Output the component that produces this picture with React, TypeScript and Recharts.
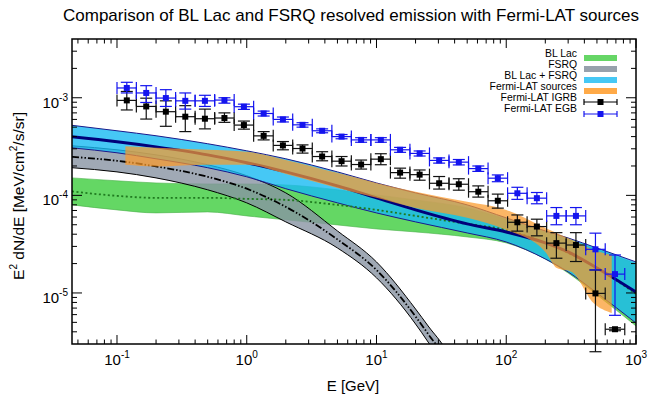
import React from 'react'
import { ComposedChart, Area, Scatter, ErrorBar, XAxis, YAxis, ReferenceArea } from 'recharts'

// energies (GeV) of the model band grid
const bandE = [0.045, 0.1, 0.2, 0.5, 1, 2, 5, 10, 20, 50, 100, 200, 300, 500, 1000]

// BL Lac (green)
const blLacLo = [7.99e-5, 7.1e-5, 6.61e-5, 6.77e-5, 6.16e-5, 5.61e-5, 4.98e-5, 4.53e-5, 4.22e-5, 3.75e-5, 3.26e-5, 2.23e-5, 1.6e-5, 9.54e-6, 4.59e-6]
const blLacHi = [1.51e-4, 1.41e-4, 1.34e-4, 1.31e-4, 1.31e-4, 1.28e-4, 1.14e-4, 1.01e-4, 8.99e-5, 7.44e-5, 5.7e-5, 4.2e-5, 3.55e-5, 2.8e-5, 2.0e-5]
const blLacMid = [1.1e-4, 9.88e-5, 9.43e-5, 9.43e-5, 9.21e-5, 8.99e-5, 7.99e-5, 7.1e-5, 6.16e-5, 5.1e-5, 4.43e-5, 3.26e-5, 2.57e-5, 1.8e-5, 9.76e-6]

// BL Lac + FSRQ (cyan)
const sumLo = [3.07e-4, 2.73e-4, 2.37e-4, 1.92e-4, 1.55e-4, 1.17e-4, 8.38e-5, 6.61e-5, 5.35e-5, 4.12e-5, 3.33e-5, 2.23e-5, 1.64e-5, 1.0e-5, 4.92e-6]
const sumHi = [5.22e-4, 4.59e-4, 4.08e-4, 3.38e-4, 2.86e-4, 2.37e-4, 1.74e-4, 1.34e-4, 1.06e-4, 7.99e-5, 5.88e-5, 4.32e-5, 3.66e-5, 2.89e-5, 2.08e-5]
const sumMid = [3.98e-4, 3.54e-4, 3.14e-4, 2.6e-4, 2.16e-4, 1.74e-4, 1.25e-4, 9.43e-5, 7.1e-5, 5.1e-5, 4.22e-5, 3.26e-5, 2.63e-5, 1.8e-5, 1.02e-5]

// FSRQ (gray)
const fsrqE = [0.045, 0.1, 0.2, 0.5, 1, 2, 5, 10, 20, 25, 35, 50]
const fsrqLo = [1.92e-4, 1.74e-4, 1.51e-4, 1.14e-4, 8.38e-5, 5.35e-5, 2.89e-5, 1.43e-5, 4.81e-6, 3.14e-6, 1.55e-6, 3.9e-7]
const fsrqHi = [3.22e-4, 2.93e-4, 2.6e-4, 2.06e-4, 1.59e-4, 1.06e-4, 4.32e-5, 2.08e-5, 6.85e-6, 4.59e-6, 2.48e-6, 8.0e-7]
const fsrqMid = [2.48e-4, 2.26e-4, 1.98e-4, 1.55e-4, 1.17e-4, 7.62e-5, 3.54e-5, 1.72e-5, 5.74e-6, 3.8e-6, 1.96e-6, 5.6e-7]

// Fermi-LAT resolved sources (orange)
const srcE = [0.116, 0.2, 0.5, 1, 2, 5, 10, 20, 50, 100, 200, 245, 320, 470, 650]
const srcLo = [2.06e-4, 1.98e-4, 2.06e-4, 2.06e-4, 1.66e-4, 1.19e-4, 9.43e-5, 7.44e-5, 5.88e-5, 4.43e-5, 2.63e-5, 1.8e-5, 1.64e-5, 7.89e-6, 6.24e-6]
const srcHi = [3.18e-4, 3.07e-4, 2.93e-4, 2.8e-4, 2.31e-4, 1.7e-4, 1.34e-4, 1.09e-4, 8.58e-5, 7.1e-5, 4.64e-5, 4.12e-5, 3.5e-5, 2.76e-5, 2.45e-5]

// Fermi-LAT energy bins (GeV)
const binLo = [0.1, 0.141, 0.2, 0.283, 0.4, 0.566, 0.8, 1.13, 1.6, 2.26, 3.2, 4.53, 6.4, 9.05, 12.8, 18.1, 25.6, 36.2, 51.2, 72.4, 102.4, 144.8, 204.8, 289.6, 409.6, 579.2]
const binHi = [0.141, 0.2, 0.283, 0.4, 0.566, 0.8, 1.13, 1.6, 2.26, 3.2, 4.53, 6.4, 9.05, 12.8, 18.1, 25.6, 36.2, 51.2, 72.4, 102.4, 144.8, 204.8, 289.6, 409.6, 579.2, 819.2]
const binC = [0.119, 0.168, 0.238, 0.336, 0.476, 0.673, 0.951, 1.35, 1.9, 2.69, 3.81, 5.38, 7.61, 10.8, 15.2, 21.5, 30.4, 43.1, 60.9, 86.1, 121.8, 172.2, 243.5, 344.4, 487.0, 688.8]

// IGRB
const igrb = [9.4e-4, 8.15e-4, 7.2e-4, 6.4e-4, 6.1e-4, 6.2e-4, 5.25e-4, 4.07e-4, 3.25e-4, 3.02e-4, 2.5e-4, 2.24e-4, 2.07e-4, 2.35e-4, 1.71e-4, 1.63e-4, 1.33e-4, 1.3e-4, 1.09e-4, 8.8e-5, 5.3e-5, 4.79e-5, 3.24e-5, 3.1e-5, 9.9e-6, 4.25e-6]
const igrbHi = [1.16e-3, 9.9e-4, 9.3e-4, 8.3e-4, 7.65e-4, 7.0e-4, 5.77e-4, 4.5e-4, 3.56e-4, 3.29e-4, 2.8e-4, 2.5e-4, 2.3e-4, 2.67e-4, 1.9e-4, 1.82e-4, 1.56e-4, 1.48e-4, 1.25e-4, 1.03e-4, 6.3e-5, 5.7e-5, 4.15e-5, 4.15e-5, 1.72e-5, 4.4e-6]
const igrbLo = [7.5e-4, 6.05e-4, 5.1e-4, 4.5e-4, 4.8e-4, 5.6e-4, 4.77e-4, 3.7e-4, 2.93e-4, 2.71e-4, 2.26e-4, 2.0e-4, 1.86e-4, 2.06e-4, 1.5e-4, 1.43e-4, 1.16e-4, 1.13e-4, 9.6e-5, 7.4e-5, 4.3e-5, 3.85e-5, 2.27e-5, 2.1e-5, 2.5e-6, 4.1e-6]

// EGB
const egb = [1.26e-3, 1.12e-3, 9.93e-4, 9.3e-4, 9.3e-4, 9.47e-4, 8.1e-4, 6.9e-4, 6.0e-4, 5.28e-4, 4.59e-4, 4.0e-4, 3.7e-4, 3.7e-4, 2.93e-4, 2.69e-4, 2.28e-4, 2.19e-4, 1.88e-4, 1.5e-4, 1.05e-4, 9.36e-5, 6.16e-5, 6.16e-5, 2.8e-5, 1.56e-5]
const egbHi = [1.44e-3, 1.33e-3, 1.21e-3, 1.12e-3, 1.06e-3, 1.0e-3, 8.6e-4, 7.3e-4, 6.35e-4, 5.55e-4, 4.8e-4, 4.2e-4, 3.9e-4, 3.9e-4, 3.1e-4, 2.85e-4, 2.42e-4, 2.33e-4, 2.0e-4, 1.62e-4, 1.21e-4, 1.07e-4, 7.5e-5, 7.5e-5, 4.1e-5, 2.45e-5]
const egbLo = [1.12e-3, 8.95e-4, 8.15e-4, 7.65e-4, 8.15e-4, 8.8e-4, 7.6e-4, 6.5e-4, 5.65e-4, 5.0e-4, 4.38e-4, 3.8e-4, 3.5e-4, 3.5e-4, 2.76e-4, 2.53e-4, 2.14e-4, 2.05e-4, 1.76e-4, 1.38e-4, 9.1e-5, 8.2e-5, 5.0e-5, 5.0e-5, 1.72e-5, 5.9e-6]

const X_DOMAIN = [0.045, 1000]
const Y_DOMAIN = [3e-6, 4e-3]
const xTicks = [0.05, 0.06, 0.07, 0.08, 0.09, 0.1, 0.2, 0.3, 0.4, 0.5, 0.6, 0.7, 0.8, 0.9, 1, 2, 3, 4, 5, 6, 7, 8, 9, 10, 20, 30, 40, 50, 60, 70, 80, 90, 100, 200, 300, 400, 500, 600, 700, 800, 900, 1000]
const yTicks = [4e-6, 5e-6, 6e-6, 7e-6, 8e-6, 9e-6, 1e-5, 2e-5, 3e-5, 4e-5, 5e-5, 6e-5, 7e-5, 8e-5, 9e-5, 1e-4, 2e-4, 3e-4, 4e-4, 5e-4, 6e-4, 7e-4, 8e-4, 9e-4, 1e-3, 2e-3, 3e-3]

const C = {
  green: '#3dcd3d', greenLeg: '#66d666',
  gray: '#8894a2', grayLeg: '#97a1ac',
  cyan: '#18baf3', cyanLeg: '#46c8f5',
  orange: '#fb9a2a', orangeLeg: '#ffaa48',
  navy: '#00007a', blue: '#1414ee',
}
const FONT = '"Liberation Sans", Arial, Helvetica, sans-serif'
const PLOT = { left: 72, top: 39, right: 636, bottom: 344 }

const band = (es: number[], lo: number[], hi: number[]) => es.map((e, i) => ({ e, r: [lo[i], hi[i]] }))
const line = (es: number[], m: number[]) => es.map((e, i) => ({ e, m: m[i] }))
const points = (f: number[], lo: number[], hi: number[]) =>
  binC.map((e, i) => ({ e, f: f[i], ex: [e - binLo[i], binHi[i] - e], ey: [f[i] - lo[i], hi[i] - f[i]] }))

const isMajor = (v: number) => Math.abs(Math.log10(v) - Math.round(Math.log10(v))) < 1e-6

function XTick(props: any) {
  const { x, payload } = props
  const v = payload.value
  const major = isMajor(v)
  const len = major ? 9 : 4.5
  return (
    <g>
      <line x1={x} x2={x} y1={PLOT.bottom} y2={PLOT.bottom - len} stroke="#000" strokeWidth={1} />
      <line x1={x} x2={x} y1={PLOT.top} y2={PLOT.top + len} stroke="#000" strokeWidth={1} />
      {major && (
        <text x={x} y={PLOT.bottom + 21} textAnchor="middle" fontFamily={FONT} fontSize={15} fill="#000">
          10<tspan dy={-7} fontSize={10}>{Math.round(Math.log10(v))}</tspan>
        </text>
      )}
    </g>
  )
}

function YTick(props: any) {
  const { y, payload } = props
  const v = payload.value
  const major = isMajor(v)
  const len = major ? 10 : 5
  return (
    <g>
      <line x1={PLOT.left} x2={PLOT.left + len} y1={y} y2={y} stroke="#000" strokeWidth={1} />
      <line x1={PLOT.right} x2={PLOT.right - len} y1={y} y2={y} stroke="#000" strokeWidth={1} />
      {major && (
        <text x={PLOT.left - 4} y={y + 10} textAnchor="end" fontFamily={FONT} fontSize={15} fill="#000">
          10<tspan dy={-7} fontSize={10}>{Math.round(Math.log10(v))}</tspan>
        </text>
      )}
    </g>
  )
}

const square = (color: string) => (p: any) => (
  <rect x={p.cx - 3} y={p.cy - 3} width={6} height={6} fill={color} />
)

const legend = [
  { label: 'BL Lac', color: C.greenLeg },
  { label: 'FSRQ', color: C.grayLeg },
  { label: 'BL Lac + FSRQ', color: C.cyanLeg },
  { label: 'Fermi-LAT sources', color: C.orangeLeg },
  { label: 'Fermi-LAT IGRB', marker: '#000' },
  { label: 'Fermi-LAT EGB', marker: C.blue },
]

export default function App() {
  return (
    <div style={{ position: 'absolute', left: 0, top: 0, width: 650, height: 407, background: '#fff', fontFamily: FONT }}>
      <ComposedChart width={650} height={407} margin={{ top: PLOT.top, right: 650 - PLOT.right, bottom: 407 - PLOT.bottom - 30, left: PLOT.left - 60 }}>
        <XAxis dataKey="e" type="number" scale="log" domain={X_DOMAIN} allowDataOverflow ticks={xTicks} interval={0}
          tick={<XTick />} tickSize={0} tickMargin={0} axisLine={false} tickLine={false} height={30} />
        <YAxis type="number" scale="log" domain={Y_DOMAIN} allowDataOverflow ticks={yTicks} interval={0}
          tick={<YTick />} tickSize={0} tickMargin={0} axisLine={false} tickLine={false} width={60} />

        <Area data={band(bandE, blLacLo, blLacHi)} dataKey="r" type="monotone" fill={C.green} fillOpacity={0.8}
          stroke="#4cb04c" strokeWidth={0.6} isAnimationActive={false} />
        <Area data={band(fsrqE, fsrqLo, fsrqHi)} dataKey="r" type="monotone" fill={C.gray} fillOpacity={0.8}
          stroke="#000" strokeWidth={1} isAnimationActive={false} />
        <Area data={band(bandE, sumLo, sumHi)} dataKey="r" type="monotone" fill={C.cyan} fillOpacity={0.8}
          stroke="#1a1a8c" strokeWidth={1} isAnimationActive={false} />
        <Area data={line(bandE, blLacMid)} dataKey="m" type="monotone" fill="none" stroke="#1f7a1f"
          strokeWidth={1.8} strokeDasharray="2 2.5" isAnimationActive={false} />
        <Area data={line(fsrqE, fsrqMid)} dataKey="m" type="monotone" fill="none" stroke="#000"
          strokeWidth={1.8} strokeDasharray="7 2 1.5 2 1.5 2" isAnimationActive={false} />
        <Area data={line(bandE, sumMid)} dataKey="m" type="monotone" fill="none" stroke={C.navy}
          strokeWidth={3} isAnimationActive={false} />
        <Area data={band(srcE, srcLo, srcHi)} dataKey="r" type="monotone" fill={C.orange} fillOpacity={0.72}
          stroke="none" isAnimationActive={false} />

        <Scatter data={points(igrb, igrbLo, igrbHi)} dataKey="f" shape={square('#000')} isAnimationActive={false}>
          <ErrorBar dataKey="ex" direction="x" width={6} stroke="#111" strokeWidth={1.2} />
          <ErrorBar dataKey="ey" direction="y" width={6} stroke="#111" strokeWidth={1.2} />
        </Scatter>
        <Scatter data={points(egb, egbLo, egbHi)} dataKey="f" shape={square(C.blue)} isAnimationActive={false}>
          <ErrorBar dataKey="ex" direction="x" width={6} stroke={C.blue} strokeWidth={1.2} />
          <ErrorBar dataKey="ey" direction="y" width={6} stroke={C.blue} strokeWidth={1.2} />
        </Scatter>

        <ReferenceArea x1={X_DOMAIN[0]} x2={X_DOMAIN[1]} y1={Y_DOMAIN[0]} y2={Y_DOMAIN[1]} fill="none"
          stroke="#000" strokeWidth={1.5} ifOverflow="visible" />
      </ComposedChart>

      <div style={{ position: 'absolute', left: 351, top: 16, transform: 'translate(-50%, -50%)', fontSize: 17, lineHeight: '20px', whiteSpace: 'nowrap' }}>
        Comparison of BL Lac and FSRQ resolved emission with Fermi-LAT sources
      </div>
      <div style={{ position: 'absolute', left: 353, top: 385, transform: 'translate(-50%, -50%)', fontSize: 15, whiteSpace: 'nowrap' }}>
        E [GeV]
      </div>
      <div style={{ position: 'absolute', left: 18, top: 196, transform: 'translate(-50%, -50%) rotate(-90deg)', fontSize: 15.5, whiteSpace: 'nowrap' }}>
        E<sup style={{ fontSize: 10 }}>2</sup> dN/dE [MeV/cm<sup style={{ fontSize: 10 }}>2</sup>/s/sr]
      </div>

      {legend.map((it, i) => (
        <React.Fragment key={it.label}>
          <div style={{ position: 'absolute', right: 650 - 577, top: 53.7 + 11.1 * i - 6, fontSize: 10.4, lineHeight: '12px', whiteSpace: 'nowrap' }}>
            {it.label}
          </div>
          {it.color ? (
            <div style={{ position: 'absolute', left: 584, top: 58 + 11.1 * i - 3, width: 33, height: 6, background: it.color }} />
          ) : (
            <svg style={{ position: 'absolute', left: 583, top: 58 + 11.1 * i - 5 }} width={36} height={10}>
              <line x1={1} x2={34} y1={5} y2={5} stroke={it.marker} strokeWidth={1.2} />
              <line x1={1} x2={1} y1={2} y2={8} stroke={it.marker} strokeWidth={1.2} />
              <line x1={34} x2={34} y1={2} y2={8} stroke={it.marker} strokeWidth={1.2} />
              <rect x={14.5} y={2} width={6} height={6} fill={it.marker} />
            </svg>
          )}
        </React.Fragment>
      ))}
    </div>
  )
}
